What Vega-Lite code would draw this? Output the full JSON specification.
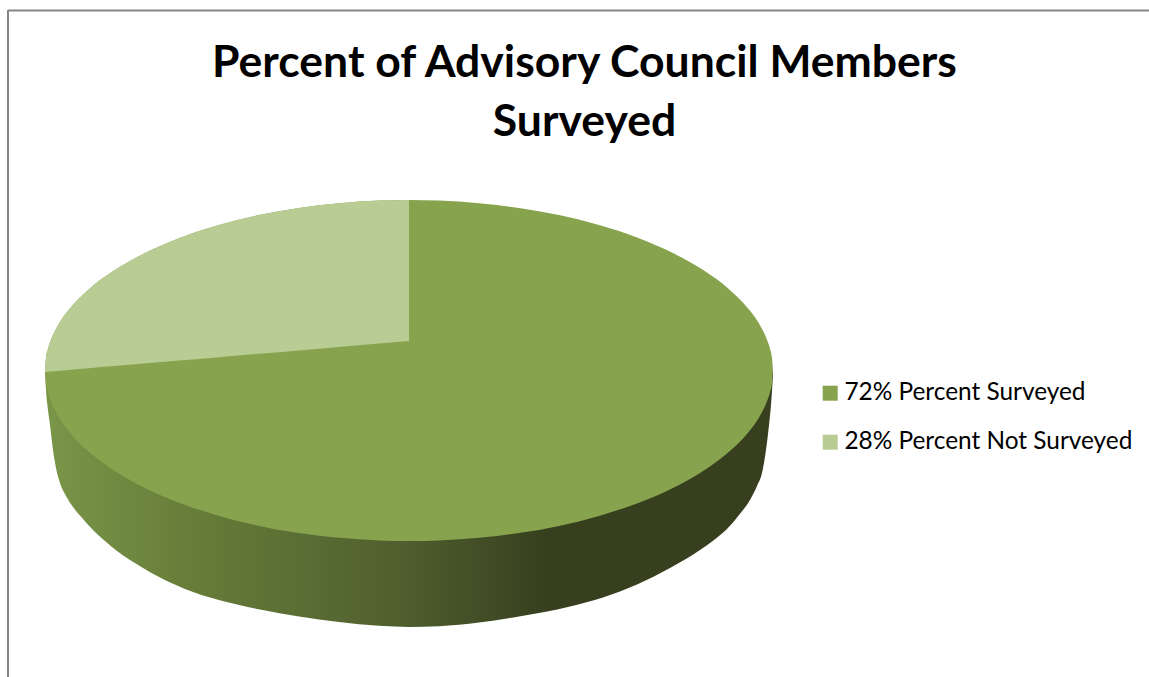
{
"$schema":"https://vega.github.io/schema/vega-lite/v6.json",
"width":1149,"height":677,"autosize":"none","padding":0,"background":"white",
"config":{"view":{"stroke":null}},
"title":{"text":["Percent of Advisory Council Members","Surveyed"],"font":"Lato","fontWeight":"bold","fontSize":44.5,"lineHeight":59,"color":"#000000","anchor":"middle","dx":10,"offset":-145,"orient":"top"},
"datasets":{
"frame":[{"x":8,"x2":8,"y":10,"y2":677},{"x":8,"x2":1149,"y":10.5,"y2":10.5}],
"side":[{"x":45,"y":372,"y2":372},{"x":46,"y":390,"y2":372},{"x":48,"y":410,"y2":372},{"x":50,"y":425,"y2":372},{"x":53,"y":450,"y2":372},{"x":56,"y":468,"y2":372},{"x":60,"y":483,"y2":372},{"x":66,"y":496,"y2":372},{"x":73,"y":507,"y2":372},{"x":83,"y":519,"y2":372},{"x":93,"y":530,"y2":372},{"x":105,"y":541,"y2":372},{"x":117,"y":551,"y2":372},{"x":130,"y":560,"y2":372},{"x":143,"y":568,"y2":372},{"x":160,"y":577.5,"y2":372},{"x":177,"y":585.5,"y2":372},{"x":193,"y":592,"y2":372},{"x":210,"y":597.5,"y2":372},{"x":235,"y":604,"y2":372},{"x":260,"y":609.5,"y2":372},{"x":299,"y":616.5,"y2":372},{"x":339,"y":622,"y2":372},{"x":379,"y":625.8,"y2":372},{"x":409,"y":627,"y2":372},{"x":439,"y":626.2,"y2":372},{"x":479,"y":622.5,"y2":372},{"x":519,"y":616.5,"y2":372},{"x":570,"y":606.5,"y2":372},{"x":603,"y":597.5,"y2":372},{"x":620,"y":591.5,"y2":372},{"x":637,"y":584.5,"y2":372},{"x":653,"y":577,"y2":372},{"x":670,"y":568,"y2":372},{"x":685,"y":559.5,"y2":372},{"x":700,"y":550,"y2":372},{"x":714,"y":540,"y2":372},{"x":727,"y":529,"y2":372},{"x":739,"y":515,"y2":372},{"x":750,"y":500,"y2":372},{"x":757,"y":486,"y2":372},{"x":762,"y":473,"y2":372},{"x":766,"y":450,"y2":372},{"x":769,"y":425,"y2":372},{"x":771,"y":405,"y2":372},{"x":773,"y":375,"y2":372}],
"surveyed":[{"series":"72% Percent Surveyed","x":45,"y":370.5,"y2":370.5},{"series":"72% Percent Surveyed","x":46,"y":357.9,"y2":383.1},{"series":"72% Percent Surveyed","x":48,"y":348.7,"y2":392.3},{"series":"72% Percent Surveyed","x":51,"y":339.7,"y2":401.3},{"series":"72% Percent Surveyed","x":57,"y":327.1,"y2":413.9},{"series":"72% Percent Surveyed","x":69,"y":309.6,"y2":431.4},{"series":"72% Percent Surveyed","x":89,"y":289.2,"y2":451.8},{"series":"72% Percent Surveyed","x":114,"y":270.6,"y2":470.4},{"series":"72% Percent Surveyed","x":144,"y":253.6,"y2":487.4},{"series":"72% Percent Surveyed","x":179,"y":238.3,"y2":502.7},{"series":"72% Percent Surveyed","x":219,"y":225.1,"y2":515.9},{"series":"72% Percent Surveyed","x":259,"y":215.1,"y2":525.9},{"series":"72% Percent Surveyed","x":299,"y":208,"y2":533},{"series":"72% Percent Surveyed","x":339,"y":203.2,"y2":537.8},{"series":"72% Percent Surveyed","x":379,"y":200.6,"y2":540.4},{"series":"72% Percent Surveyed","x":409,"y":200,"y2":541},{"series":"72% Percent Surveyed","x":439,"y":200.6,"y2":540.4},{"series":"72% Percent Surveyed","x":479,"y":203.2,"y2":537.8},{"series":"72% Percent Surveyed","x":519,"y":208,"y2":533},{"series":"72% Percent Surveyed","x":559,"y":215.1,"y2":525.9},{"series":"72% Percent Surveyed","x":599,"y":225.1,"y2":515.9},{"series":"72% Percent Surveyed","x":639,"y":238.3,"y2":502.7},{"series":"72% Percent Surveyed","x":674,"y":253.6,"y2":487.4},{"series":"72% Percent Surveyed","x":704,"y":270.6,"y2":470.4},{"series":"72% Percent Surveyed","x":729,"y":289.2,"y2":451.8},{"series":"72% Percent Surveyed","x":749,"y":309.6,"y2":431.4},{"series":"72% Percent Surveyed","x":761,"y":327.1,"y2":413.9},{"series":"72% Percent Surveyed","x":767,"y":339.7,"y2":401.3},{"series":"72% Percent Surveyed","x":770,"y":348.7,"y2":392.3},{"series":"72% Percent Surveyed","x":772,"y":357.9,"y2":383.1},{"series":"72% Percent Surveyed","x":773,"y":370.5,"y2":370.5}],
"notSurveyed":[{"series":"28% Percent Not Surveyed","x":45,"y":370.5,"y2":372},{"series":"28% Percent Not Surveyed","x":46,"y":357.9,"y2":371.9},{"series":"28% Percent Not Surveyed","x":48,"y":348.7,"y2":371.7},{"series":"28% Percent Not Surveyed","x":51,"y":339.7,"y2":371.5},{"series":"28% Percent Not Surveyed","x":57,"y":327.1,"y2":371},{"series":"28% Percent Not Surveyed","x":69,"y":309.6,"y2":370},{"series":"28% Percent Not Surveyed","x":89,"y":289.2,"y2":368.3},{"series":"28% Percent Not Surveyed","x":114,"y":270.6,"y2":366.1},{"series":"28% Percent Not Surveyed","x":144,"y":253.6,"y2":363.6},{"series":"28% Percent Not Surveyed","x":179,"y":238.3,"y2":360.6},{"series":"28% Percent Not Surveyed","x":219,"y":225.1,"y2":357.2},{"series":"28% Percent Not Surveyed","x":259,"y":215.1,"y2":353.8},{"series":"28% Percent Not Surveyed","x":299,"y":208,"y2":350.4},{"series":"28% Percent Not Surveyed","x":339,"y":203.2,"y2":347},{"series":"28% Percent Not Surveyed","x":379,"y":200.6,"y2":343.6},{"series":"28% Percent Not Surveyed","x":409,"y":200,"y2":341}]
},
"layer":[
{"data":{"name":"frame"},"mark":{"type":"rule","color":"#868686","strokeWidth":2},
 "encoding":{"x":{"field":"x","type":"quantitative","scale":{"domain":[0,1149],"nice":false,"zero":false},"axis":null},"x2":{"field":"x2"},"y":{"field":"y","type":"quantitative","scale":{"domain":[677,0],"nice":false,"zero":false},"axis":null},"y2":{"field":"y2"}}},
{"data":{"name":"side"},"mark":{"type":"area","orient":"vertical","interpolate":"monotone","color":{"gradient":"linear","x1":0,"y1":0,"x2":1,"y2":0,"stops":[{"offset":0,"color":"#7a9648"},{"offset":0.21,"color":"#667c39"},{"offset":0.49,"color":"#4f5f2e"},{"offset":0.69,"color":"#373f1e"},{"offset":1,"color":"#373f1e"}]}},
 "encoding":{"x":{"field":"x","type":"quantitative"},"y":{"field":"y","type":"quantitative","stack":null},"y2":{"field":"y2"}}},
{"data":{"name":"surveyed"},"mark":{"type":"area","orient":"vertical","interpolate":"monotone"},
 "encoding":{"x":{"field":"x","type":"quantitative"},"y":{"field":"y","type":"quantitative","stack":null},"y2":{"field":"y2"},
  "color":{"field":"series","type":"nominal","scale":{"domain":["72% Percent Surveyed","28% Percent Not Surveyed"],"range":["#88a34d","#b8cc94"]},
   "legend":{"orient":"none","legendX":818,"legendY":381,"title":null,"symbolType":"square","symbolSize":225,"symbolStrokeWidth":0,"labelFont":"Lato","labelFontSize":24.4,"labelColor":"#000000","labelOffset":2,"rowPadding":24,"labelLimit":400}}}},
{"data":{"name":"notSurveyed"},"mark":{"type":"area","orient":"vertical","interpolate":"monotone"},
 "encoding":{"x":{"field":"x","type":"quantitative"},"y":{"field":"y","type":"quantitative","stack":null},"y2":{"field":"y2"},
  "color":{"field":"series","type":"nominal"}}}
]
}
